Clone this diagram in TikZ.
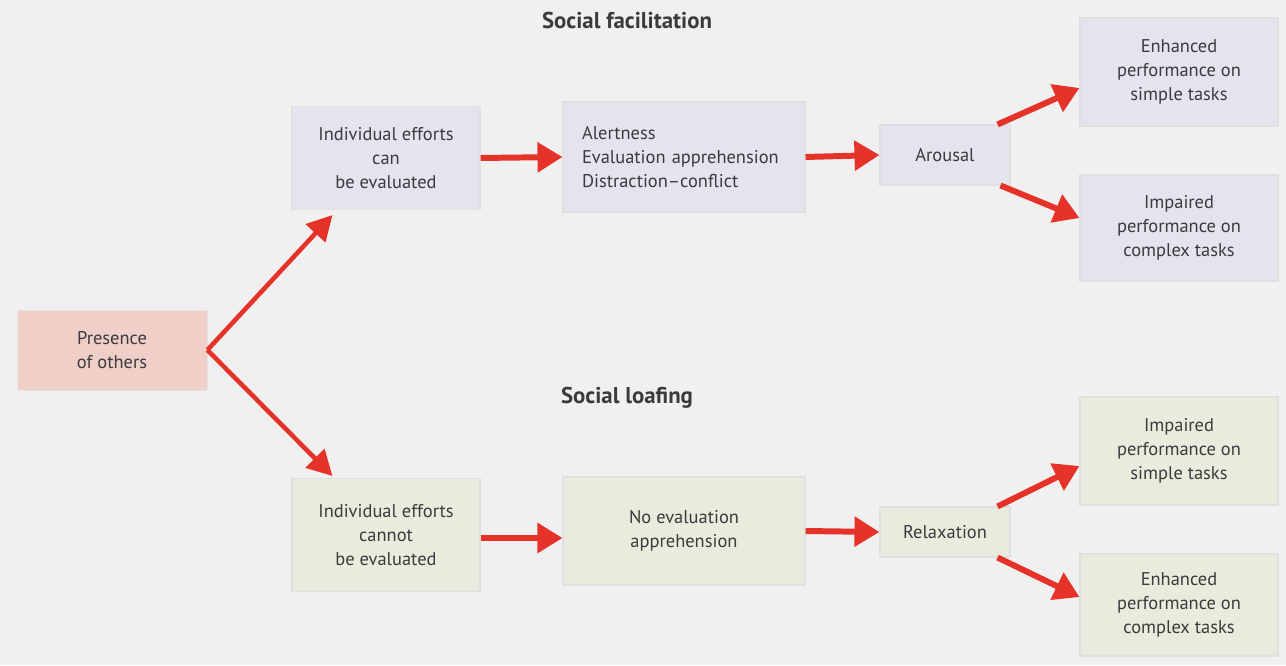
\documentclass[tikz,border=0pt]{standalone}
\usepackage{fontspec}
\setmainfont{PT Sans}
\usepackage{xcolor}
\usetikzlibrary{positioning}
\usetikzlibrary{arrows.meta}

\definecolor{bgpaper}{HTML}{F1F0F0}
\definecolor{topfill}{HTML}{E4E3EE}
\definecolor{botfill}{HTML}{E9ECDD}
\definecolor{pinkfill}{HTML}{F0CFC8}
\definecolor{arrowred}{HTML}{E5332A}
\definecolor{inkgray}{HTML}{3C3A3C}

\begin{document}
\begin{tikzpicture}[x=1cm, y=1cm, every node/.style={font=\fontsize{10.5}{13.6}\selectfont, text=inkgray},
  topbox/.style={fill=topfill, draw=black!12, line width=0.6pt, align=center, inner sep=0pt},
  botbox/.style={fill=botfill, draw=black!12, line width=0.6pt, align=center, inner sep=0pt},
  redarrow/.style={draw=arrowred, line width=3.4pt, -{Triangle[length=0.5cm, width=0.58cm]}},
  thinarrow/.style={draw=arrowred, line width=2.6pt, -{Triangle[length=0.5cm, width=0.52cm]}},
  heading/.style={font=\fontsize{13}{15}\selectfont\bfseries}]

\fill[bgpaper] (0,0) rectangle (25.72,13.3);
\useasboundingbox (0,0) rectangle (25.72,13.3);

% titles
\node (facil) [heading] at (12.54,12.88) {Social facilitation};
\node (loaf) [heading] at (12.54,5.34) {Social loafing};

% start
\node (presence) [fill=pinkfill, draw=black!10, minimum width=3.8cm, minimum height=1.6cm, align=center] at (2.24,6.30) {Presence\\of others};

% upper branch
\node (evaltop) [topbox, minimum width=3.76cm, minimum height=2.06cm] at (7.72,10.14) {Individual efforts\\can\\be evaluated};
\node (alert) [topbox, minimum width=4.84cm, minimum height=2.2cm, align=left, text width=4.08cm, inner xsep=0.38cm] at (13.68,10.16) {Alertness\\Evaluation apprehension\\Distraction--conflict};
\node (arousal) [topbox, minimum width=2.6cm, minimum height=1.2cm] at (18.9,10.2) {Arousal};
\node (enhsimple) [topbox, minimum width=3.96cm, minimum height=2.16cm] at (23.58,11.86) {Enhanced\\performance on\\simple tasks};
\node (impcomplex) [topbox, minimum width=3.96cm, minimum height=2.12cm] at (23.58,8.74) {Impaired\\performance on\\complex tasks};

% lower branch
\node (evalbot) [botbox, minimum width=3.76cm, minimum height=2.26cm] at (7.72,2.6) {Individual efforts\\cannot\\be evaluated};
\node (noeval) [botbox, minimum width=4.84cm, minimum height=2.16cm] at (13.68,2.68) {No evaluation\\apprehension};
\node (relax) [botbox, minimum width=2.6cm, minimum height=1.0cm] at (18.9,2.66) {Relaxation};
\node (impsimple) [botbox, minimum width=3.96cm, minimum height=2.16cm] at (23.58,4.28) {Impaired\\performance on\\simple tasks};
\node (enhcomplex) [botbox, minimum width=3.96cm, minimum height=2.04cm] at (23.58,1.2) {Enhanced\\performance on\\complex tasks};

\draw[thinarrow] (presence.east) -- ([xshift=0.82cm, yshift=-0.1cm]evaltop.south west);
\draw[thinarrow] (presence.east) -- ([xshift=0.82cm, yshift=0.04cm]evalbot.north west);

\draw[redarrow] (evaltop.east) -- (alert.west);
\draw[redarrow] (alert.east) -- (arousal.west);
\draw[redarrow] ([xshift=-0.26cm]arousal.north east) -- ([yshift=-0.32cm]enhsimple.west);
\draw[redarrow] ([xshift=-0.2cm]arousal.south east) -- ([yshift=0.2cm]impcomplex.west);

\draw[redarrow] ([yshift=-0.06cm]evalbot.east) -- ([yshift=-0.06cm]evalbot.east -| noeval.west);
\draw[redarrow] (noeval.east) -- (relax.west);
\draw[redarrow] ([xshift=-0.26cm]relax.north east) -- ([yshift=-0.3cm]impsimple.west);
\draw[redarrow] ([xshift=-0.26cm]relax.south east) -- ([yshift=0.16cm]enhcomplex.west);

\end{tikzpicture}
\end{document}
